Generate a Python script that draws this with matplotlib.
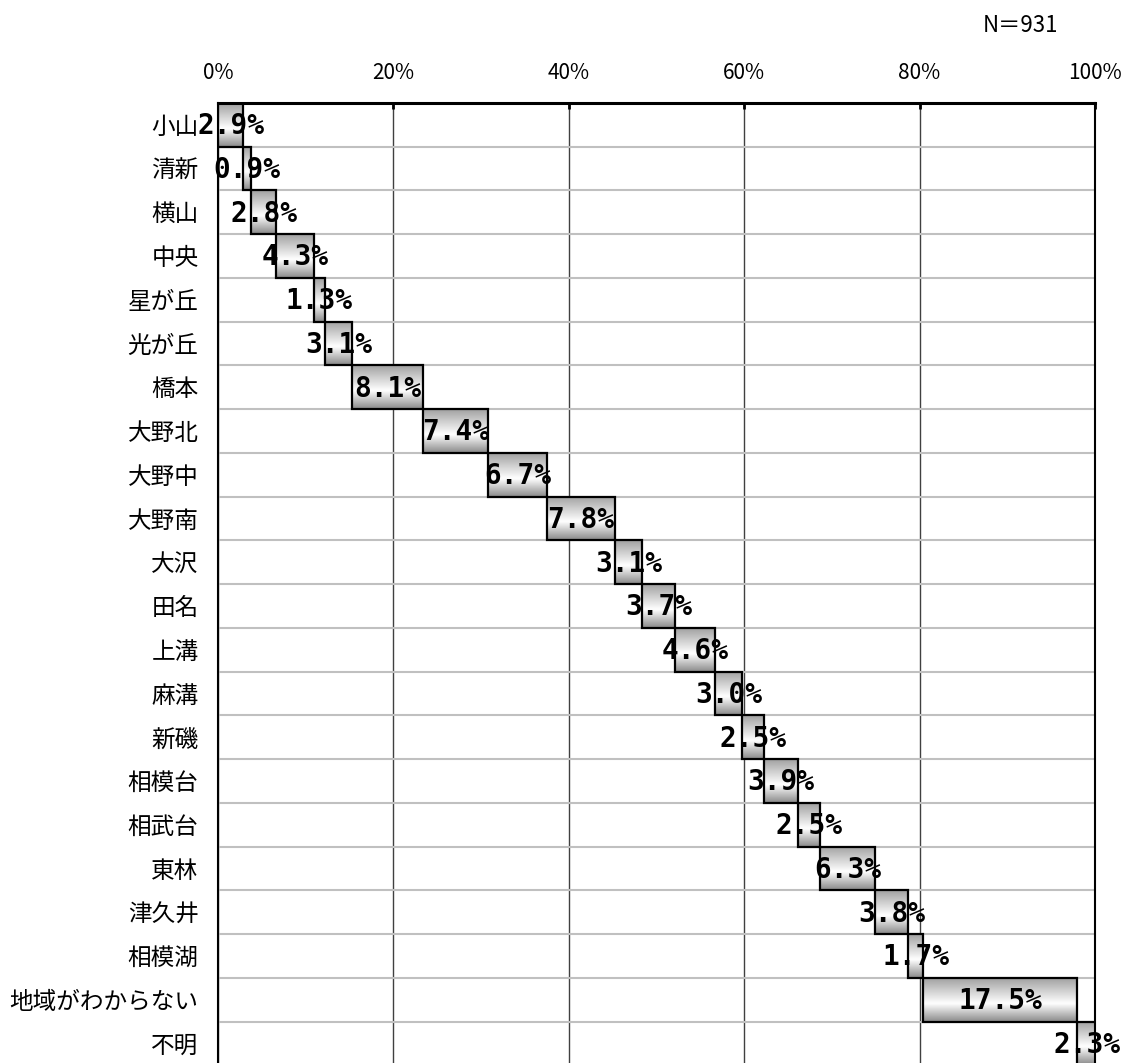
import numpy as np
import matplotlib

matplotlib.use("Agg")
import matplotlib.pyplot as plt
from matplotlib.colors import LinearSegmentedColormap
from matplotlib.ticker import FixedLocator, FuncFormatter

plt.rcParams["font.family"] = ["Noto Sans CJK JP", "DejaVu Sans"]

AREAS = [
    "小山", "清新", "横山", "中央", "星が丘", "光が丘", "橋本", "大野北",
    "大野中", "大野南", "大沢", "田名", "上溝", "麻溝", "新磯", "相模台",
    "相武台", "東林", "津久井", "相模湖", "地域がわからない", "不明",
]
SHARES = [
    2.9, 0.9, 2.8, 4.3, 1.3, 3.1, 8.1, 7.4,
    6.7, 7.8, 3.1, 3.7, 4.6, 3.0, 2.5, 3.9,
    2.5, 6.3, 3.8, 1.7, 17.5, 2.3,
]
X_TICKS = [0, 20, 40, 60, 80, 100]
N_TEXT = "N＝931"

shares = np.array(SHARES)
lefts = np.concatenate([[0.0], np.cumsum(shares)[:-1]])
rows = np.arange(len(AREAS))

fig = plt.figure(figsize=(11.23, 10.63), dpi=100)
ax = fig.add_axes([0.1941, -0.00235, 0.781, 0.9055])

# gray -> white -> gray vertical shading inside each box
shade = LinearSegmentedColormap.from_list(
    "shade", [(0.0, "#a2a2a2"), (0.58, "#ffffff"), (1.0, "#8a8a8a")]
)
grad = np.linspace(0, 1, 64).reshape(-1, 1)
for row, left, width in zip(rows, lefts, shares):
    ax.imshow(
        grad, cmap=shade, aspect="auto", interpolation="bicubic",
        extent=(left, left + width, row + 0.5, row - 0.5),
        origin="upper", zorder=2,
    )

ax.barh(rows, shares, left=lefts, height=1.0, fill=False,
        edgecolor="black", linewidth=1.6, zorder=3)

for row, left, width in zip(rows, lefts, shares):
    ax.text(left + width / 2, row + 0.03, f"{width:.1f}%",
            ha="center", va="center", fontsize=20, fontweight="bold",
            family="DejaVu Sans Mono", zorder=4, clip_on=False)

ax.set_xlim(0, 100)
ax.set_ylim(len(AREAS) - 0.5, -0.5)

ax.xaxis.tick_top()
ax.xaxis.set_major_locator(FixedLocator(X_TICKS))
ax.xaxis.set_major_formatter(FuncFormatter(lambda v, _: f"{v:.0f}%"))
ax.tick_params(axis="x", direction="in", length=4, width=2, pad=14,
               labelsize=15, top=True, bottom=False)

ax.set_yticks(rows, labels=AREAS)
ax.set_yticks(rows + 0.5, minor=True)
ax.tick_params(axis="y", which="both", length=0, pad=14, labelsize=17)

ax.grid(axis="x", which="major", color="#404040", linewidth=1.0, zorder=1)
ax.grid(axis="y", which="minor", color="#c0c0c0", linewidth=1.5, zorder=1)
ax.grid(axis="y", which="major", visible=False)
ax.set_axisbelow(True)

ax.spines["top"].set_linewidth(2.2)
ax.spines["left"].set_linewidth(1.5)
ax.spines["right"].set_linewidth(1.5)
ax.spines["bottom"].set_linewidth(1.5)

fig.text(1058 / 1123, 1 - 25 / 1063, N_TEXT, ha="right", va="center",
         fontsize=16)

fig.savefig("out.png", dpi=100)
